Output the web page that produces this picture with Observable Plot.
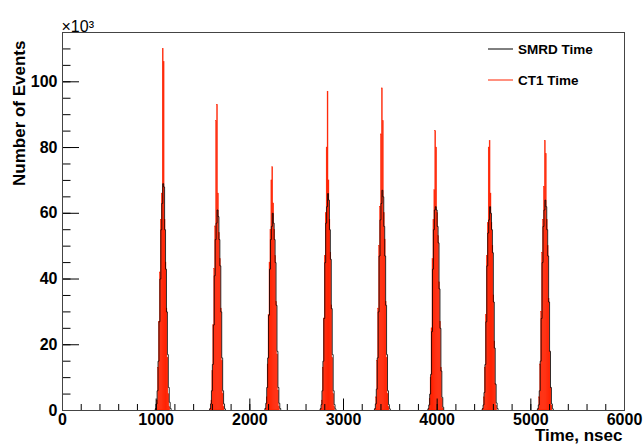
<!DOCTYPE html>
<html><head><meta charset="utf-8">
<script src="https://cdn.jsdelivr.net/npm/d3@7"></script>
<script src="https://cdn.jsdelivr.net/npm/@observablehq/plot@0.6"></script>
<style>
body{margin:0;background:#fff;}
#chart{width:643px;height:448px;}
</style>
</head><body><div id="chart"></div>
<script>
// Histogram bin width (ns) and first bin of each bunch window (ns)
const binWidth = 10;
const bunchStarts = [990, 1570, 2160, 2750, 3330, 3900, 4480, 5070];
// Counts per bin, in units of 10^3 events
const smrdCounts = [
  [0.5, 2, 6, 15, 27, 40, 55, 63, 69, 68, 55, 43, 30, 17, 7, 2.5, 0.6],
  [0.5, 2, 6, 14, 26, 41, 52, 57, 61, 59, 52, 44, 30, 16, 6, 2, 0.5],
  [0.6, 2.2, 7, 16, 29, 43, 52, 56, 60, 57, 52, 45, 32, 18, 7, 2.2, 0.6],
  [0.5, 1.8, 6, 15, 28, 45, 57, 62, 66, 64, 55, 46, 31, 17, 6, 1.8, 0.5],
  [0.5, 2, 6.5, 16, 30, 47, 58, 63, 67, 65, 56, 47, 32, 17, 6, 1.8, 0.5],
  [0.5, 1.7, 5, 11, 24, 43, 55, 61, 62, 61, 56, 51, 37, 25, 12, 4, 1],
  [0.5, 1.7, 5.5, 14, 27, 44, 54, 58, 62, 60, 55, 48, 33, 19, 8, 2.3, 0.6],
  [0.5, 1.7, 6, 15, 28, 45, 56, 61, 64, 62, 55, 47, 33, 18, 7, 2, 0.5]
];
const ct1Counts = [
  [0, 0.5, 3, 13, 27, 42, 58, 66, 110, 106, 58, 45, 31, 16, 5, 1, 0],
  [0, 0.5, 3, 12, 26, 43, 56, 88, 93, 66, 54, 46, 31, 15, 5, 1, 0],
  [0, 0.6, 4, 14, 29, 45, 55, 70, 74, 63, 55, 47, 33, 17, 6, 1, 0],
  [0, 0.5, 3, 13, 28, 47, 60, 80, 97, 70, 58, 48, 32, 16, 5, 1, 0],
  [0, 0.5, 4, 15, 31, 50, 62, 84, 98, 88, 60, 52, 33, 16, 5, 1, 0],
  [0, 0.5, 3.5, 10, 25, 46, 58, 67, 85, 80, 60, 53, 39, 27, 13, 3.5, 0.6],
  [0, 0.5, 4, 13, 29, 47, 57, 80, 82, 66, 57, 50, 35, 21, 8, 1.5, 0],
  [0, 0.5, 4, 14, 30, 48, 58, 68, 82, 78, 58, 50, 34, 18, 7, 1.5, 0]
];
const xTickValues = [0, 1000, 2000, 3000, 4000, 5000, 6000];
const yTickValues = [0, 20, 40, 60, 80, 100];
const seriesNames = ["SMRD Time", "CT1 Time"];
const seriesColors = ["#000000", "#ff2200"];

// Build tables
const ct1Bins = [];
ct1Counts.forEach((arr, i) => arr.forEach((v, j) => {
  const x1 = bunchStarts[i] + j * binWidth;
  ct1Bins.push({x1, x2: x1 + binWidth, y: v});
}));
const smrdSteps = [];
smrdCounts.forEach((arr, i) => {
  smrdSteps.push({bunch: i, x: bunchStarts[i], y: 0});
  arr.forEach((v, j) => {
    const x1 = bunchStarts[i] + j * binWidth;
    smrdSteps.push({bunch: i, x: x1, y: v});
    smrdSteps.push({bunch: i, x: x1 + binWidth, y: v});
  });
  smrdSteps.push({bunch: i, x: bunchStarts[i] + arr.length * binWidth, y: 0});
});
const xMinor = d3.range(0, 6001, 200);
const yMinor = d3.range(0, 116, 5);

const W = 643, H = 448;
const mL = 62, mR = 19, mT = 32, mB = 38;
const innerW = W - mL - mR, innerH = H - mT - mB;
const font = "'Liberation Sans', Arial, Helvetica, sans-serif";

const legendMark = () => {
  const g = d3.create("svg:g").attr("font-family", font).attr("text-anchor", "start");
  const right = W - mR;
  const rows = [17, 48];
  rows.forEach((dy, i) => {
    const y = mT + dy;
    g.append("line").attr("x1", right - 136).attr("x2", right - 111)
      .attr("y1", y).attr("y2", y).attr("stroke", seriesColors[i]).attr("stroke-width", 1);
    g.append("text").attr("x", right - 106).attr("y", y).attr("dy", "0.35em")
      .attr("text-anchor", "start")
      .attr("font-size", 13.5).attr("font-weight", "bold").attr("fill", "#000")
      .text(seriesNames[i]);
  });
  return g.node();
};

const chart = Plot.plot({
  width: W, height: H,
  marginLeft: mL, marginRight: mR, marginTop: mT, marginBottom: mB,
  style: {fontFamily: font, background: "#fff"},
  x: {domain: [0, 6000]},
  y: {domain: [0, 115]},
  marks: [
    Plot.rectY(ct1Bins, {x1: "x1", x2: "x2", y: "y", fill: seriesColors[1], stroke: seriesColors[1], strokeWidth: 0.4}),
    Plot.line(smrdSteps, {x: "x", y: "y", z: "bunch", stroke: seriesColors[0], strokeWidth: 0.8}),
    // inward ticks
    Plot.tickX(xMinor, {x: d => d, insetTop: innerH - 6, stroke: "#000"}),
    Plot.tickX(xTickValues, {x: d => d, insetTop: innerH - 11.5, stroke: "#000"}),
    Plot.tickY(yMinor, {y: d => d, insetRight: innerW - 8.5, stroke: "#000"}),
    Plot.tickY(yTickValues, {y: d => d, insetRight: innerW - 17, stroke: "#000"}),
    Plot.frame({stroke: "#444"}),
    Plot.axisX(xTickValues, {tickSize: 0, tickPadding: 3, tickFormat: d => String(d), fontSize: 16, fontWeight: "bold", fill: "#000", label: null}),
    Plot.axisY(yTickValues, {tickSize: 0, tickPadding: 5, tickFormat: d => String(d), fontSize: 16, fontWeight: "bold", fill: "#000", label: null}),
    Plot.text(["×10³"], {frameAnchor: "top-left", dy: -12, dx: -1, textAnchor: "start", fontSize: 16, fill: "#000"}),
    Plot.text(["Number of Events"], {frameAnchor: "top-left", dx: -50, dy: 8, rotate: -90, textAnchor: "end", fontSize: 17, fontWeight: "bold", fill: "#000"}),
    Plot.text(["Time, nsec"], {frameAnchor: "bottom-right", dx: -2, dy: 30, textAnchor: "end", fontSize: 17, fontWeight: "bold", fill: "#000"}),
    legendMark
  ]
});
document.getElementById("chart").appendChild(chart);
</script>
</body></html>
